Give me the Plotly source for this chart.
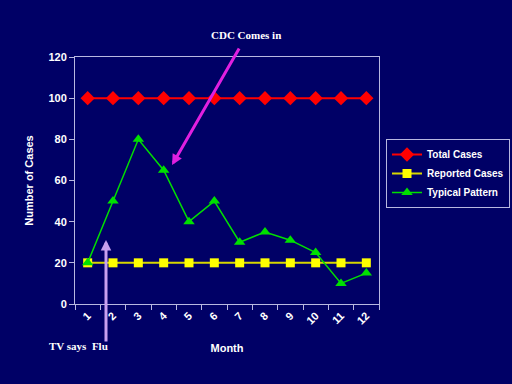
import plotly.graph_objects as go

months = [str(i) for i in range(1, 13)]
total_cases = [100] * 12
reported_cases = [20] * 12
typical_pattern = [20, 50, 80, 65, 40, 50, 30, 35, 31, 25, 10, 15]

BG = "#000066"
AXC = "#B8B8E0"
sans = dict(family="Liberation Sans, Arial", size=11, color="white", weight="bold")
serif = dict(family="Liberation Serif, Times New Roman", size=11, color="white", weight="bold")

L, R, T, B = 75, 133, 57, 80
W, H = 512, 384
pw, ph = W - L - R, H - T - B


def px(x):
    return (x - L) / pw


def py(y):
    return (H - B - y) / ph


fig = go.Figure()
fig.add_trace(go.Scatter(x=months, y=total_cases, name="Total Cases", mode="lines+markers",
                         line=dict(color="#FF0000", width=2),
                         marker=dict(symbol="diamond", size=11, color="#FF0000")))
fig.add_trace(go.Scatter(x=months, y=reported_cases, name="Reported Cases", mode="lines+markers",
                         line=dict(color="#D8D800", width=2),
                         marker=dict(symbol="square", size=9, color="#FFFF00")))
fig.add_trace(go.Scatter(x=months, y=typical_pattern, name="Typical Pattern", mode="lines+markers",
                         line=dict(color="#00E000", width=1.5),
                         marker=dict(symbol="triangle-up", size=10, color="#00E000")))

fig.update_layout(
    width=W, height=H,
    paper_bgcolor=BG, plot_bgcolor=BG,
    margin=dict(l=L, r=R, t=T, b=B, autoexpand=False),
    font=sans,
    showlegend=True,
    legend=dict(x=px(386), y=py(139), xanchor="left", yanchor="top",
                bgcolor=BG, bordercolor=AXC, borderwidth=1,
                font=dict(family="Liberation Sans, Arial", size=10, color="white", weight="bold"),
                tracegroupgap=0, itemwidth=30),
    xaxis=dict(type="category", tickson="boundaries", ticks="outside", ticklen=5,
               tickcolor=AXC, showline=True, linecolor=AXC, linewidth=1, mirror=True,
               showgrid=False, tickangle=-45,
               tickfont=dict(family="Liberation Sans, Arial", size=11, color="white"),
               title=dict(text="Month", font=sans, standoff=18), range=[-0.5, 11.5]),
    yaxis=dict(range=[0, 120], dtick=20, ticks="outside", ticklen=5, tickcolor=AXC,
               showline=True, linecolor=AXC, linewidth=1, mirror=True, showgrid=False,
               zeroline=False, tickfont=sans,
               title=dict(text="Number of Cases", font=sans, standoff=12)),
    annotations=[
        dict(x=px(172), y=py(165), xref="paper", yref="paper", ax=68, ay=-118,
             showarrow=True, arrowhead=2, arrowsize=0.7, arrowwidth=3, arrowcolor="#E020E0", text=""),
        dict(x=px(106), y=py(240), xref="paper", yref="paper", ax=0, ay=103,
             showarrow=True, arrowhead=2, arrowsize=0.7, arrowwidth=3, arrowcolor="#C8A0F0", text=""),
        dict(x=px(246), y=py(35), xref="paper", yref="paper", text="CDC Comes in", showarrow=False,
             xanchor="center", yanchor="middle", font=serif),
        dict(x=px(78), y=py(346), xref="paper", yref="paper", text="TV says  Flu", showarrow=False,
             xanchor="center", yanchor="middle", font=serif),
    ],
)

fig.write_html("out.html", config={"displayModeBar": False},
               post_script="document.body.style.margin='0';")
